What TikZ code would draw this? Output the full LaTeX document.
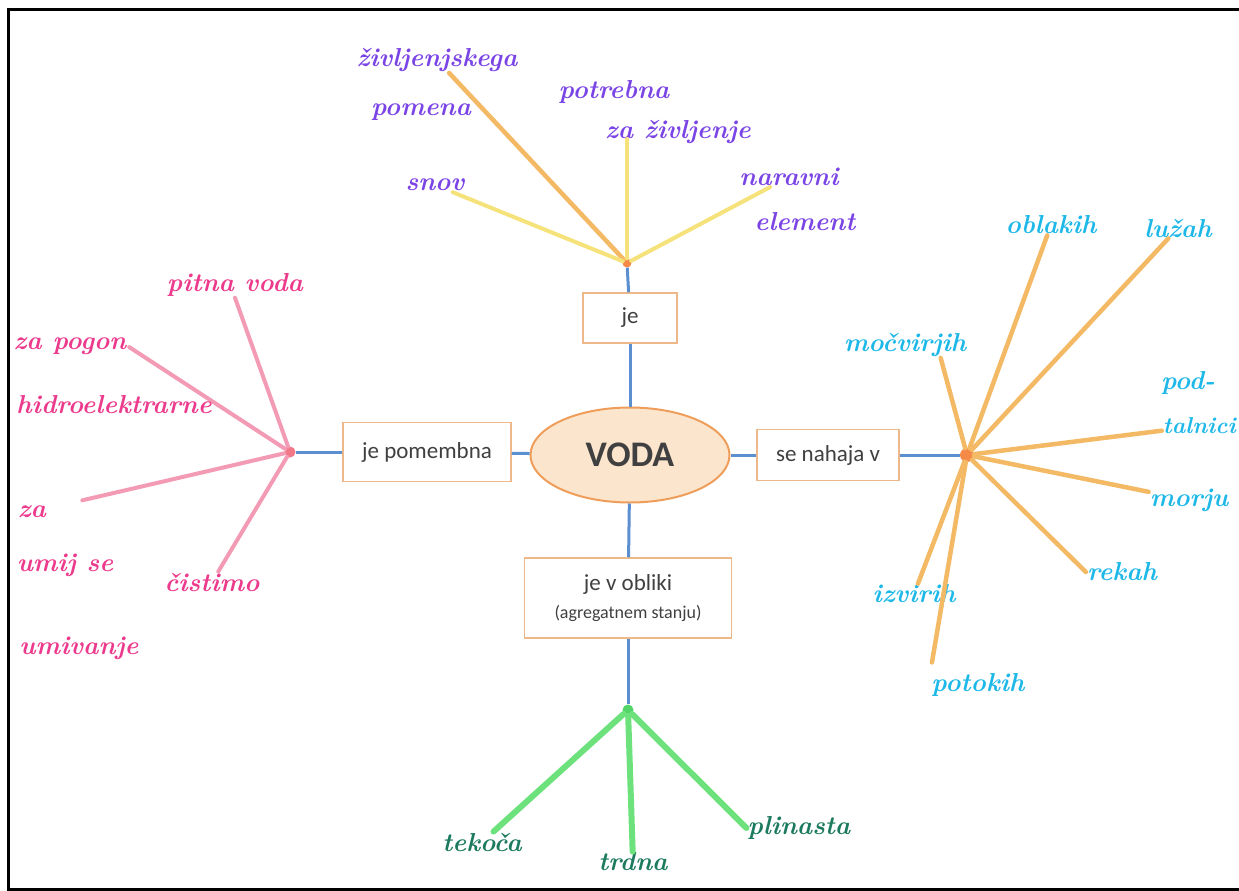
\documentclass[tikz,border=0pt]{standalone}
\usepackage{fontspec}
\newfontfamily\boxfont{Carlito}
\usetikzlibrary{shapes.geometric}
\definecolor{bluelinec}{HTML}{5B8FD0}
\definecolor{boxline}{HTML}{EDB98A}
\definecolor{boxtext}{HTML}{404040}
\definecolor{vodafill}{HTML}{FCE5CD}
\definecolor{vodaline}{HTML}{EE9E5A}
\definecolor{hubor}{HTML}{F58A48}
\definecolor{hubpink}{HTML}{F27888}
\definecolor{hubgreen}{HTML}{52D468}
\definecolor{lineor}{HTML}{F3B964}
\definecolor{lineyel}{HTML}{F6E27A}
\definecolor{linepink}{HTML}{F39AB4}
\definecolor{linegreen}{HTML}{6DE27C}
\definecolor{inkviolet}{HTML}{7B45E6}
\definecolor{inkpink}{HTML}{EC3A8C}
\definecolor{inkcyan}{HTML}{1EB8E8}
\definecolor{inkgreen}{HTML}{1C7A5E}
\tikzset{
    mm/.style={
        voda/.append style={ellipse,draw=vodaline,line width=2pt,fill=vodafill,minimum width=199pt,minimum height=95pt,text=boxtext,font=\boxfont\bfseries\fontsize{36}{40}\selectfont},
        rel/.append style={rectangle,draw=boxline,line width=1.5pt,fill=white,align=center,text=boxtext,font=\boxfont\fontsize{23}{26}\selectfont},
        hub/.append style={circle,inner sep=0pt,minimum size=9pt},
        hand/.append style={font=\bfseries\itshape\fontsize{26}{28}\selectfont,inner sep=1pt},
        toplbl/.append style={hand,text=inkviolet},
        leftlbl/.append style={hand,text=inkpink},
        rightlbl/.append style={hand,text=inkcyan},
        botlbl/.append style={hand,text=inkgreen},
        bluelink/.append style={draw=bluelinec,line width=3pt},
        yellink/.append style={draw=lineyel,line width=4pt,line cap=round},
        orlink/.append style={draw=lineor,line width=4.5pt,line cap=round},
        pinklink/.append style={draw=linepink,line width=4pt,line cap=round},
        greenlink/.append style={draw=linegreen,line width=6pt,line cap=round},
        frame/.append style={draw=black,line width=3pt}
    }
}

\begin{document}
\begin{tikzpicture}[mm,x=1pt,y=-1pt]
    \useasboundingbox (0, 0) rectangle (1239, 891);
    \draw[frame] (1245, 10) -- (8, 10) -- (8, 889) -- (1245, 889);

    % middle
    \node[voda] (voda) at (630, 455) {VODA};
    \node[hub,fill=hubor] (hubT) at (627, 263) {};
    \node[hub,fill=hubpink,minimum size=11pt] (hubL) at (290, 452) {};
    \node[hub,fill=hubor,minimum size=14pt] (hubR) at (967, 455) {};
    \node[hub,fill=hubgreen,minimum size=11pt] (hubB) at (628, 710) {};

    \node[rel,minimum width=94pt,minimum height=50pt] (je) at (630, 318) {je} edge[bluelink] (voda) edge[bluelink] (hubT);
    \node[rel,minimum width=168pt,minimum height=59pt] (pomembna) at (427, 452) {je pomembna} edge[bluelink] (voda) edge[bluelink] (hubL);
    \node[rel,minimum width=142pt,minimum height=51pt] (nahaja) at (828, 455) {se nahaja v} edge[bluelink] (voda) edge[bluelink] (hubR);
    \node[rel,minimum width=207pt,minimum height=80pt] (oblika) at (628, 598) {je v obliki\\[2pt]{\fontsize{18}{20}\selectfont(agregatnem stanju)}} edge[bluelink] (voda) edge[bluelink] (hubB);

    % je
    \node[toplbl] (zivlj) at (437, 60) {življenjskega} edge[orlink] (hubT);
    \node[toplbl] (pomena) at (421, 112) {pomena};
    \node[toplbl] (snov) at (435, 185) {snov} edge[yellink] (hubT);
    \node[toplbl] (potrebna) at (614, 92) {potrebna};
    \node[toplbl,anchor=west] (zazivlj) at (604, 132) {za življenje};
    \draw[yellink,shorten >=-6pt] (hubT) -- (hubT |- zazivlj.south);
    \node[toplbl] (naravni) at (789, 177) {naravni} edge[yellink] (hubT);
    \node[toplbl] (element) at (805, 222) {element};

    % je pomembna
    \node[leftlbl] (pitna) at (235, 285) {pitna voda};
    \draw[pinklink] (hubL) -- (pitna.south);
    \node[leftlbl] (pogon) at (70, 346) {za pogon};
    \draw[pinklink,shorten >=2pt] (hubL) -- (pogon.east);
    \node[leftlbl] (hidro) at (114, 405) {hidroelektrarne};
    \node[leftlbl] (za) at (32, 512) {za} edge[pinklink,shorten <=36pt] (hubL);
    \node[leftlbl] (umij) at (65, 565) {umij se};
    \node[leftlbl] (umivanje) at (79, 648) {umivanje};
    \node[leftlbl] (cistimo) at (212, 582) {čistimo} edge[pinklink] (hubL);

    % se nahaja v
    \node[rightlbl] (oblakih) at (1051, 225) {oblakih} edge[orlink] (hubR);
    \node[rightlbl] (luzah) at (1178, 228) {lužah} edge[orlink] (hubR);
    \node[rightlbl] (mocvirjih) at (905, 345) {močvirjih};
    \draw[orlink] (hubR) -- (mocvirjih.-20);
    \node[rightlbl] (pod) at (1188, 383) {pod-};
    \node[rightlbl,anchor=east,font=\bfseries\itshape\fontsize{23}{26}\selectfont] (talnici) at (1237, 426) {talnici} edge[orlink] (hubR);
    \node[rightlbl] (morju) at (1189, 500) {morju} edge[orlink] (hubR);
    \node[rightlbl] (rekah) at (1122, 572) {rekah};
    \draw[orlink] (hubR) -- (rekah.west);
    \node[rightlbl] (izvirih) at (914, 594) {izvirih} edge[orlink] (hubR);
    \node[rightlbl] (potokih) at (978, 685) {potokih};
    \draw[orlink,shorten >=10pt] (hubR) -- (potokih.north west);

    % je v obliki
    \node[botlbl] (tekoca) at (482, 842) {tekoča} edge[greenlink] (hubB);
    \node[botlbl] (trdna) at (633, 862) {trdna} edge[greenlink] (hubB);
    \node[botlbl] (plinasta) at (799, 828) {plinasta};
    \draw[greenlink] (hubB) -- (plinasta.west);
\end{tikzpicture}
\end{document}
